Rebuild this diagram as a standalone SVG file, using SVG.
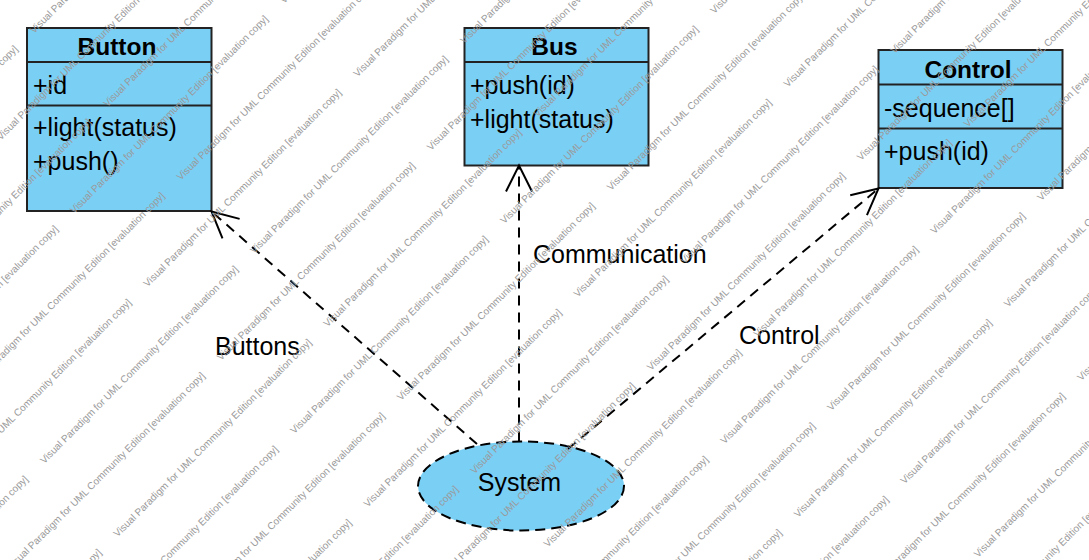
<svg xmlns="http://www.w3.org/2000/svg" width="1089" height="560" viewBox="0 0 1089 560">
<style>
text { font-family: "Liberation Sans", Arial, sans-serif; fill: #000; }
.box { fill: #7ACFF5; stroke: #222; stroke-width: 2; }
.sep { stroke: #222; stroke-width: 2; }
.name { font-size: 24.5px; font-weight: bold; text-anchor: middle; }
.mem { font-size: 25px; }
.lbl { font-size: 25px; }
.dash { fill: none; stroke: #000; stroke-width: 2; stroke-dasharray: 10 7; }
.usecase { fill: #7ACFF5; stroke: #000; stroke-width: 2; stroke-dasharray: 10 6; }
#watermark text { font-size: 10px; fill: #9a9a9a; }
</style>
<defs>
<marker id="open" markerUnits="userSpaceOnUse" markerWidth="40" markerHeight="40" viewBox="-30 -20 40 40" refX="0" refY="0" orient="auto" overflow="visible">
<path d="M -26 -13 L 0 0 L -26 13" fill="none" stroke="#000" stroke-width="2" stroke-dasharray="none"/>
</marker>
</defs>
<rect width="1089" height="560" fill="#fff"/>

<g id="button">
<rect class="box" x="27" y="28" width="184.5" height="183"/>
<line class="sep" x1="27" y1="62" x2="211.5" y2="62"/>
<line class="sep" x1="27" y1="105.5" x2="211.5" y2="105.5"/>
<text class="name" x="117" y="55">Button</text>
<text class="mem" x="33" y="94">+id</text>
<text class="mem" x="33" y="136">+light(status)</text>
<text class="mem" x="33" y="170">+push()</text>
</g>

<g id="bus">
<rect class="box" x="464.5" y="28" width="184" height="137.5"/>
<line class="sep" x1="464.5" y1="62" x2="648.5" y2="62"/>
<text class="name" x="554.5" y="55">Bus</text>
<text class="mem" x="470" y="94">+push(id)</text>
<text class="mem" x="470" y="128">+light(status)</text>
</g>

<g id="control">
<rect class="box" x="878.5" y="50" width="184" height="138"/>
<line class="sep" x1="878.5" y1="84.5" x2="1062.5" y2="84.5"/>
<line class="sep" x1="878.5" y1="128.5" x2="1062.5" y2="128.5"/>
<text class="name" x="968" y="77.5">Control</text>
<text class="mem" x="884" y="116.5">-sequence[]</text>
<text class="mem" x="884" y="159.5">+push(id)</text>
</g>

<g id="system">
<ellipse class="usecase" cx="521" cy="486" rx="103" ry="44.5"/>
<text class="lbl" x="519.5" y="491" text-anchor="middle">System</text>
</g>

<g id="connectors">
<path class="dash" d="M 477 444 L 211.5 211.5" marker-end="url(#open)"/>
<path class="dash" d="M 519 441.5 L 519 165.5" marker-end="url(#open)"/>
<path class="dash" d="M 568 449 L 878.5 188.5" marker-end="url(#open)"/>
<text class="lbl" x="215" y="355">Buttons</text>
<text class="lbl" x="533" y="263">Communication</text>
<text class="lbl" x="739" y="344">Control</text>
</g>

<g id="watermark" transform="rotate(-45)">
<text x="-297" y="48.1">Visual Paradigm for UML Community Edition [evaluation copy]</text>
<text x="0" y="48.1">Visual Paradigm for UML Community Edition [evaluation copy]</text>
<text x="-99" y="100">Visual Paradigm for UML Community Edition [evaluation copy]</text>
<text x="-297" y="151.9">Visual Paradigm for UML Community Edition [evaluation copy]</text>
<text x="0" y="151.9">Visual Paradigm for UML Community Edition [evaluation copy]</text>
<text x="-396" y="203.8">Visual Paradigm for UML Community Edition [evaluation copy]</text>
<text x="-99" y="203.8">Visual Paradigm for UML Community Edition [evaluation copy]</text>
<text x="198" y="203.8">Visual Paradigm for UML Community Edition [evaluation copy]</text>
<text x="-297" y="255.7">Visual Paradigm for UML Community Edition [evaluation copy]</text>
<text x="0" y="255.7">Visual Paradigm for UML Community Edition [evaluation copy]</text>
<text x="-396" y="307.6">Visual Paradigm for UML Community Edition [evaluation copy]</text>
<text x="-99" y="307.6">Visual Paradigm for UML Community Edition [evaluation copy]</text>
<text x="198" y="307.6">Visual Paradigm for UML Community Edition [evaluation copy]</text>
<text x="-594" y="359.5">Visual Paradigm for UML Community Edition [evaluation copy]</text>
<text x="-297" y="359.5">Visual Paradigm for UML Community Edition [evaluation copy]</text>
<text x="0" y="359.5">Visual Paradigm for UML Community Edition [evaluation copy]</text>
<text x="297" y="359.5">Visual Paradigm for UML Community Edition [evaluation copy]</text>
<text x="-396" y="411.4">Visual Paradigm for UML Community Edition [evaluation copy]</text>
<text x="-99" y="411.4">Visual Paradigm for UML Community Edition [evaluation copy]</text>
<text x="198" y="411.4">Visual Paradigm for UML Community Edition [evaluation copy]</text>
<text x="-594" y="463.3">Visual Paradigm for UML Community Edition [evaluation copy]</text>
<text x="-297" y="463.3">Visual Paradigm for UML Community Edition [evaluation copy]</text>
<text x="0" y="463.3">Visual Paradigm for UML Community Edition [evaluation copy]</text>
<text x="297" y="463.3">Visual Paradigm for UML Community Edition [evaluation copy]</text>
<text x="-396" y="515.2">Visual Paradigm for UML Community Edition [evaluation copy]</text>
<text x="-99" y="515.2">Visual Paradigm for UML Community Edition [evaluation copy]</text>
<text x="198" y="515.2">Visual Paradigm for UML Community Edition [evaluation copy]</text>
<text x="495" y="515.2">Visual Paradigm for UML Community Edition [evaluation copy]</text>
<text x="-297" y="567.1">Visual Paradigm for UML Community Edition [evaluation copy]</text>
<text x="0" y="567.1">Visual Paradigm for UML Community Edition [evaluation copy]</text>
<text x="297" y="567.1">Visual Paradigm for UML Community Edition [evaluation copy]</text>
<text x="-396" y="619">Visual Paradigm for UML Community Edition [evaluation copy]</text>
<text x="-99" y="619">Visual Paradigm for UML Community Edition [evaluation copy]</text>
<text x="198" y="619">Visual Paradigm for UML Community Edition [evaluation copy]</text>
<text x="495" y="619">Visual Paradigm for UML Community Edition [evaluation copy]</text>
<text x="-297" y="670.9">Visual Paradigm for UML Community Edition [evaluation copy]</text>
<text x="0" y="670.9">Visual Paradigm for UML Community Edition [evaluation copy]</text>
<text x="297" y="670.9">Visual Paradigm for UML Community Edition [evaluation copy]</text>
<text x="594" y="670.9">Visual Paradigm for UML Community Edition [evaluation copy]</text>
<text x="-99" y="722.8">Visual Paradigm for UML Community Edition [evaluation copy]</text>
<text x="198" y="722.8">Visual Paradigm for UML Community Edition [evaluation copy]</text>
<text x="495" y="722.8">Visual Paradigm for UML Community Edition [evaluation copy]</text>
<text x="0" y="774.7">Visual Paradigm for UML Community Edition [evaluation copy]</text>
<text x="297" y="774.7">Visual Paradigm for UML Community Edition [evaluation copy]</text>
<text x="594" y="774.7">Visual Paradigm for UML Community Edition [evaluation copy]</text>
<text x="-99" y="826.6">Visual Paradigm for UML Community Edition [evaluation copy]</text>
<text x="198" y="826.6">Visual Paradigm for UML Community Edition [evaluation copy]</text>
<text x="495" y="826.6">Visual Paradigm for UML Community Edition [evaluation copy]</text>
<text x="0" y="878.5">Visual Paradigm for UML Community Edition [evaluation copy]</text>
<text x="297" y="878.5">Visual Paradigm for UML Community Edition [evaluation copy]</text>
<text x="594" y="878.5">Visual Paradigm for UML Community Edition [evaluation copy]</text>
<text x="-99" y="930.4">Visual Paradigm for UML Community Edition [evaluation copy]</text>
<text x="198" y="930.4">Visual Paradigm for UML Community Edition [evaluation copy]</text>
<text x="495" y="930.4">Visual Paradigm for UML Community Edition [evaluation copy]</text>
<text x="0" y="982.3">Visual Paradigm for UML Community Edition [evaluation copy]</text>
<text x="297" y="982.3">Visual Paradigm for UML Community Edition [evaluation copy]</text>
<text x="198" y="1034.2">Visual Paradigm for UML Community Edition [evaluation copy]</text>
<text x="495" y="1034.2">Visual Paradigm for UML Community Edition [evaluation copy]</text>
<text x="297" y="1086.1">Visual Paradigm for UML Community Edition [evaluation copy]</text>
<text x="198" y="1138">Visual Paradigm for UML Community Edition [evaluation copy]</text>
</g>
</svg>
